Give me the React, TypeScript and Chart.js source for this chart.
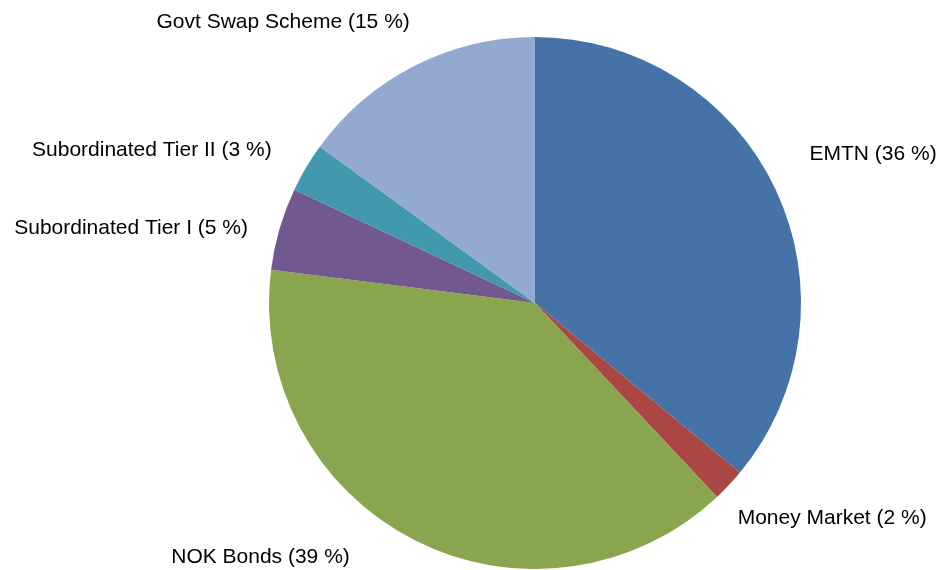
import React, { useEffect, useRef } from "react";
import { Chart, registerables } from "chart.js";

Chart.register(...registerables);

const categories = [
  "EMTN",
  "Money Market",
  "NOK Bonds",
  "Subordinated Tier I",
  "Subordinated Tier II",
  "Govt Swap Scheme",
];
const shares = [36, 2, 39, 5, 3, 15];
const sliceColors = ["#4673A7", "#AA4643", "#89A54E", "#71588F", "#4198AF", "#93A9CF"];
// label nudges (dx, dy) from the generic outside anchor
const labelNudges: [number, number][] = [
  [23, -30],
  [0, 25],
  [-59, 7],
  [-20, 3],
  [-24, -11],
  [1, -33],
];

const labelPlugin = {
  id: "outsideLabels",
  afterDatasetsDraw(chart: any) {
    const ctx = chart.ctx;
    const meta = chart.getDatasetMeta(0);
    ctx.save();
    ctx.font = "21px 'Liberation Sans', Arial, sans-serif";
    ctx.fillStyle = "#000";
    ctx.textBaseline = "middle";
    meta.data.forEach((arc: any, i: number) => {
      const { x, y, startAngle, endAngle, outerRadius } = arc.getProps(
        ["x", "y", "startAngle", "endAngle", "outerRadius"],
        true
      );
      const mid = (startAngle + endAngle) / 2;
      const r = outerRadius + 12;
      const px = x + Math.cos(mid) * r;
      const py = y + Math.sin(mid) * r;
      ctx.textAlign = Math.cos(mid) >= 0 ? "left" : "right";
      const text = `${categories[i]} (${shares[i]} %)`;
      const [dx, dy] = labelNudges[i];
      ctx.fillText(text, px + dx, py + dy);
    });
    ctx.restore();
  },
};

export default function App() {
  const ref = useRef<HTMLCanvasElement>(null);
  useEffect(() => {
    if (!ref.current) return;
    const chart = new Chart(ref.current, {
      type: "pie",
      data: {
        labels: categories,
        datasets: [
          {
            data: shares,
            backgroundColor: sliceColors,
            borderWidth: 0,
            hoverOffset: 0,
            offset: 0,
          },
        ],
      },
      options: {
        responsive: false,
        animation: false,
        layout: { padding: { left: 269, right: 139, top: 37, bottom: 1 } },
        plugins: {
          legend: { display: false },
          tooltip: { enabled: false },
        },
      },
      plugins: [labelPlugin],
    });
    return () => chart.destroy();
  }, []);
  return (
    <div style={{ position: "absolute", left: 0, top: 0, width: 940, height: 570, background: "#fff" }}>
      <canvas ref={ref} width={940} height={570} />
    </div>
  );
}
